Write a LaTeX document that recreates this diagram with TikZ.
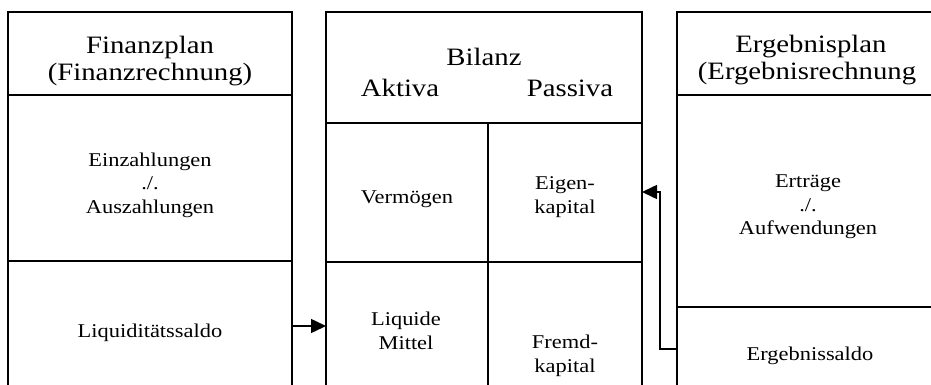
\documentclass[tikz,border=0pt]{standalone}
\usepackage{fontspec}
\setmainfont{Liberation Serif}[FakeStretch=1.15]
\usetikzlibrary{arrows.meta}
\newcommand{\headfont}{\fontsize{25}{27}\selectfont}
\newcommand{\cellfont}{\fontsize{19.5}{23.5}\selectfont}
\tikzstyle{head} = [font=\headfont, align=center, inner sep=0pt]
\tikzstyle{cell} = [font=\cellfont, align=center, inner sep=0pt]
\tikzstyle{frame} = [line width=1.5pt]

\begin{document}
\begin{tikzpicture}[x=1pt,y=-1pt,>={Triangle[length=15pt,width=14pt]}]
  \useasboundingbox (0,0) rectangle (931,385);

  \draw[frame] (8,385) -- (8,12) -- (292,12) -- (292,385);
  \draw[frame] (8,95) -- (292,95);
  \draw[frame] (8,261) -- (292,261);
  \draw[frame] (326,385) -- (326,12) -- (642,12) -- (642,385);
  \draw[frame] (326,123) -- (642,123);
  \draw[frame] (488,123) -- (488,385);
  \draw[frame] (326,262) -- (642,262);
  \draw[frame] (677,385) -- (677,12) -- (931,12);
  \draw[frame] (677,95) -- (931,95);
  \draw[frame] (677,307) -- (931,307);

  \node[head] (finanzplan) at (150,61) {Finanzplan\\(Finanzrechnung)};
  \node[cell] (einaus) at (150,185) {Einzahlungen\\./.\\Auszahlungen};
  \node[cell, anchor=base] (liqsaldo) at (150,337) {Liquiditätssaldo};

  \node[head, anchor=base] (bilanz) at (484,66) {Bilanz};
  \node[head, anchor=base] (aktiva) at (400,97) {Aktiva};
  \node[head, anchor=base] (passiva) at (570,97) {Passiva};
  \node[cell, anchor=base] (vermoegen) at (407,203) {Vermögen};
  \node[cell] (eigenkapital) at (565,197) {Eigen-\\kapital};
  \node[cell] (liqmittel) at (406,331) {Liquide\\Mittel};
  \node[cell] (fremdkapital) at (565,356) {Fremd-\\kapital};

  \node[head, anchor=base] (ergebnisplan) at (811,53) {Ergebnisplan};
  \node[head, anchor=base] (ergrechnung) at (807,80) {(Ergebnisrechnung};
  \node[cell] (ertrauf) at (808,207) {Erträge\\./.\\Aufwendungen};
  \node[cell, anchor=base] (ergsaldo) at (810,360) {Ergebnissaldo};

  \coordinate (fin-out) at (292,326);
  \coordinate (liq-in) at (326,326);
  \coordinate (erg-out) at (677,349);
  \coordinate (ek-in) at (642,192);
  \draw[frame,->] (fin-out) -- (liq-in);
  \draw[frame,->] (erg-out) -- ++(-17,0) |- (ek-in);
\end{tikzpicture}
\end{document}
